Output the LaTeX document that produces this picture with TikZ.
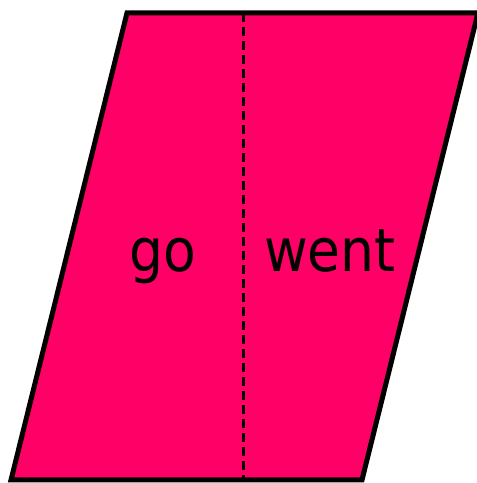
\documentclass[tikz,border=0pt]{standalone}
\usepackage{fontspec}
\newfontfamily\wordfont{DejaVu Sans Condensed}
\definecolor{pinkfill}{HTML}{FF0066}
\begin{document}
\begin{tikzpicture}[x=1pt, y=1pt, word/.style={font=\wordfont\fontsize{59.5}{61}\selectfont, inner sep=0pt, anchor=base}]

    \useasboundingbox (0,0) rectangle (477,483);

    \coordinate (TL) at (127,470);
    \coordinate (TR) at (478,470);
    \coordinate (BR) at (362,3);
    \coordinate (BL) at (11,3);
    \coordinate (DT) at (243,470);
    \coordinate (DB) at (243,3);

    \path[draw, line width=5pt, fill=pinkfill, line join=miter] (TL) -- (TR) -- (BR) -- (BL) -- cycle;
    \path[draw, line width=3pt, dash pattern=on 9pt off 5pt] (DT) -- (DB);

    \node at (163,211) (go) [word] {go};
    \node at (330,211) (went) [word] {went};

\end{tikzpicture}
\end{document}
